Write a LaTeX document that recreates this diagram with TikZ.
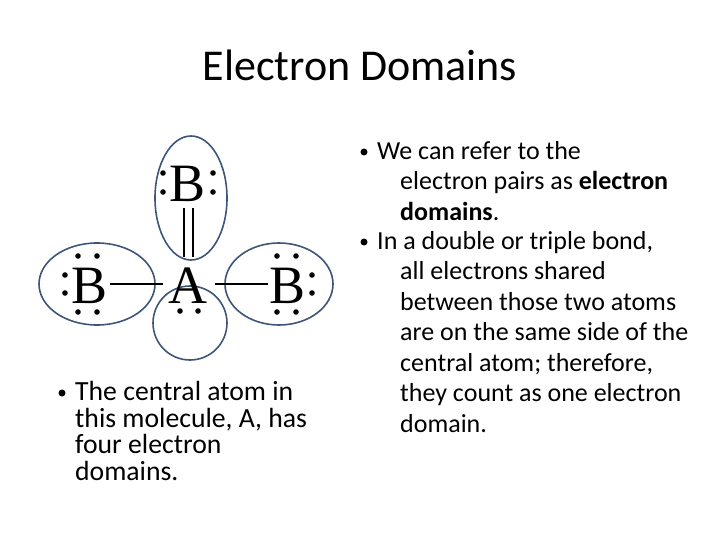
\documentclass[tikz,border=0pt]{standalone}
\usepackage{fontspec}
\setmainfont{Carlito}
\newfontfamily\atomfont{Liberation Serif}
\begin{document}
\begin{tikzpicture}[x=1pt,y=-1pt,
  dom/.style={line width=1.6pt},
  atom/.style={font=\atomfont\fontsize{54}{54}\selectfont,inner sep=0pt},
  bond/.style={line width=2.2pt},
  txt/.style={anchor=north west,align=left,inner sep=0pt},
  bul/.style={circle,fill,inner sep=0pt,minimum size=7pt}]
\useasboundingbox (0,0) rectangle (720,540);
\definecolor{domc}{RGB}{60,85,120}
\node[font=\fontsize{44}{44}\selectfont] (title) at (360,65) {Electron Domains};
% domains
\draw[dom,draw=domc] (191,198) ellipse [x radius=36,y radius=62];
\draw[dom,draw=domc] (97,284) ellipse [x radius=58,y radius=41];
\draw[dom,draw=domc] (279,284) ellipse [x radius=54,y radius=41];
\draw[dom,draw=domc] (190,323) circle [radius=37];
% atoms
\node[atom] (bt) at (188,184) {B};
\node[atom] (a) at (188,286) {A};
\node[atom] (bl) at (90,286) {B};
\node[atom] (br) at (288,286) {B};
\draw[bond] (184,208) -- (184,257) (193,208) -- (193,257);
\draw[bond] (110,284) -- (163,284);
\draw[bond] (215,284) -- (268,284);
\foreach \p in {(163,173),(163,192),(213,173),(213,192),
  (65,275),(65,293),(78,256),(97,256),(78,312),(97,312),
  (277,256),(296,256),(277,312),(296,312),(312,275),(312,293),
  (180,311),(198,311)}
  \fill \p circle [radius=2.8];
% texts
\node[bul] (b1) at (62,393) {};
\node[txt,font=\fontsize{27.7}{26.7}\selectfont] (t1) at (75,381) {The central atom in\\this molecule, A, has\\four electron\\domains.};
\node[bul] (b2) at (364,152) {};
\node[txt,font=\fontsize{26}{30.5}\selectfont] (t2) at (377,141) {We can refer to the\\\hspace*{23pt}electron pairs as \textbf{electron}\\\hspace*{23pt}\textbf{domains}.};
\node[bul] (b3) at (364,242) {};
\node[txt,font=\fontsize{26}{30.5}\selectfont] (t3) at (377,231) {In a double or triple bond,\\\hspace*{23pt}all electrons shared\\\hspace*{23pt}between those two atoms\\\hspace*{23pt}are on the same side of the\\\hspace*{23pt}central atom; therefore,\\\hspace*{23pt}they count as one electron\\\hspace*{23pt}domain.};
\end{tikzpicture}
\end{document}
